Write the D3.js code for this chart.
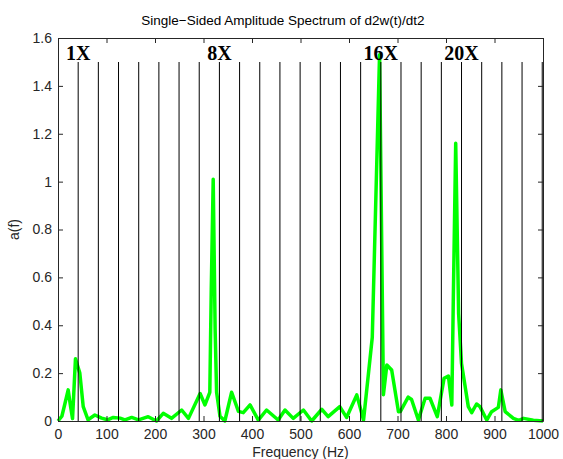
<!DOCTYPE html>
<html>
<head>
<meta charset="utf-8">
<script src="https://cdn.jsdelivr.net/npm/d3@7"></script>
<style>
    body { margin: 0; background: #fff; }
    svg { font-family: "Liberation Sans", Arial, sans-serif; }
    .harm-label { font-family: "Liberation Serif", "Times New Roman", serif; font-weight: bold; }
</style>
</head>
<body>
<svg id="chart" width="563" height="459"></svg>
<script>
// Spectrum
var freqs = [0, 8, 14, 21, 26, 30, 36, 45, 52, 62, 76, 90, 102, 114, 128, 138, 152, 166, 186, 203,
    217, 234, 255, 269, 293, 303, 313, 316, 320, 324, 327, 334, 344, 358, 372, 382, 396, 413, 430,
    454, 468, 485, 506, 523, 544, 557, 581, 595, 616, 630, 648, 663, 671, 678, 688, 702, 706, 722,
    729, 743, 757, 767, 782, 796, 805, 812, 815, 820, 826, 832, 846, 853, 863, 870, 884, 894, 908,
    913, 922, 939, 950, 960, 980, 1000];
var amps = [0, 0.02, 0.07, 0.13, 0.06, 0.01, 0.26, 0.2, 0.06, 0.005, 0.025, 0.012, 0.005, 0.015,
    0.012, 0.005, 0.015, 0.005, 0.018, 0, 0.032, 0.011, 0.046, 0.011, 0.115, 0.067, 0.12, 0.55,
    1.01, 0.38, 0.12, 0.02, 0, 0.12, 0.04, 0.035, 0.067, 0.004, 0.046, 0.004, 0.046, 0.011, 0.046,
    0, 0.049, 0.018, 0.06, 0.015, 0.109, 0.004, 0.35, 1.53, 0.11, 0.234, 0.213, 0.039, 0.04, 0.1,
    0.09, 0.004, 0.095, 0.095, 0.018, 0.178, 0.188, 0.067, 0.5, 1.16, 0.45, 0.24, 0.06, 0.035,
    0.071, 0.06, 0.004, 0.039, 0.057, 0.13, 0.039, 0.011, 0.003, 0.011, 0.003, 0];

// Harmonic marker lines (multiples of the running speed)
var fundamental = 41.6;
var harmonicOrders = d3.range(1, 25);
var labelledOrders = [1, 8, 16, 20];

var xTicks = [0, 100, 200, 300, 400, 500, 600, 700, 800, 900, 1000];
var yTicks = [0, 0.2, 0.4, 0.6, 0.8, 1, 1.2, 1.4, 1.6];

var svg = d3.select("#chart");
var margin = { top: 38, left: 58, right: 20, bottom: 38 };
var width = +svg.attr("width") - margin.left - margin.right,
    height = +svg.attr("height") - margin.top - margin.bottom;

var g = svg.append("g")
    .attr("transform", "translate(" + margin.left + "," + margin.top + ")");

var xScale = d3.scaleLinear().domain([0, 1000]).range([0, width]);
var yScale = d3.scaleLinear().domain([0, 1.6]).range([height, 0]);

var data = freqs.map(function(f, i) { return { f: f, a: amps[i] }; });

// spectrum line
var line = d3.line()
    .x(function(d) { return xScale(d.f); })
    .y(function(d) { return yScale(d.a); });

g.append("path")
    .datum(data)
    .attr("fill", "none")
    .attr("stroke", "#00ff00")
    .attr("stroke-width", 3.5)
    .attr("stroke-linejoin", "round")
    .attr("d", line);

// harmonic lines on top of the curve
g.append("g")
    .selectAll("line")
    .data(harmonicOrders)
    .enter()
    .append("line")
    .attr("x1", function(d) { return xScale(d * fundamental); })
    .attr("x2", function(d) { return xScale(d * fundamental); })
    .attr("y1", 24)
    .attr("y2", height)
    .attr("stroke", "#000")
    .attr("stroke-width", 1);

g.append("g")
    .selectAll("text")
    .data(labelledOrders)
    .enter()
    .append("text")
    .attr("class", "harm-label")
    .attr("x", function(d) { return xScale(d * fundamental); })
    .attr("y", 22)
    .attr("text-anchor", "middle")
    .style("font-size", "20px")
    .text(function(d) { return d + "X"; });

// axes, MATLAB style: ticks inside, box all round
var styleAxis = function(sel) {
    sel.select(".domain").attr("stroke", "#262626");
    sel.selectAll(".tick line").attr("stroke", "#262626");
    sel.selectAll(".tick text").attr("fill", "#262626").style("font-size", "14px");
};

g.append("g")
    .attr("transform", "translate(0," + height + ")")
    .call(d3.axisBottom(xScale).tickValues(xTicks).tickSizeInner(-5).tickSizeOuter(0)
        .tickPadding(8).tickFormat(d3.format("d")))
    .call(styleAxis);

g.append("g")
    .call(d3.axisTop(xScale).tickValues(xTicks).tickSizeInner(-5).tickSizeOuter(0).tickFormat(""))
    .call(styleAxis);

g.append("g")
    .call(d3.axisLeft(yScale).tickValues(yTicks).tickSizeInner(-5).tickSizeOuter(0)
        .tickPadding(6).tickFormat(d3.format("~g")))
    .call(styleAxis);

g.append("g")
    .attr("transform", "translate(" + width + ",0)")
    .call(d3.axisRight(yScale).tickValues(yTicks).tickSizeInner(-5).tickSizeOuter(0).tickFormat(""))
    .call(styleAxis);

// title and axis labels
svg.append("text")
    .attr("x", 283)
    .attr("y", 25)
    .attr("text-anchor", "middle")
    .style("font-size", "13.5px")
    .attr("fill", "#000")
    .text("Single\u2212Sided Amplitude Spectrum of d2w(t)/dt2");

svg.append("text")
    .attr("x", margin.left + width / 2)
    .attr("y", 457)
    .attr("text-anchor", "middle")
    .style("font-size", "14px")
    .attr("fill", "#262626")
    .text("Frequency (Hz)");

svg.append("text")
    .attr("transform", "translate(19," + (margin.top + height / 2) + ") rotate(-90)")
    .attr("text-anchor", "middle")
    .style("font-size", "14px")
    .attr("fill", "#262626")
    .text("a(f)");
</script>
</body>
</html>
